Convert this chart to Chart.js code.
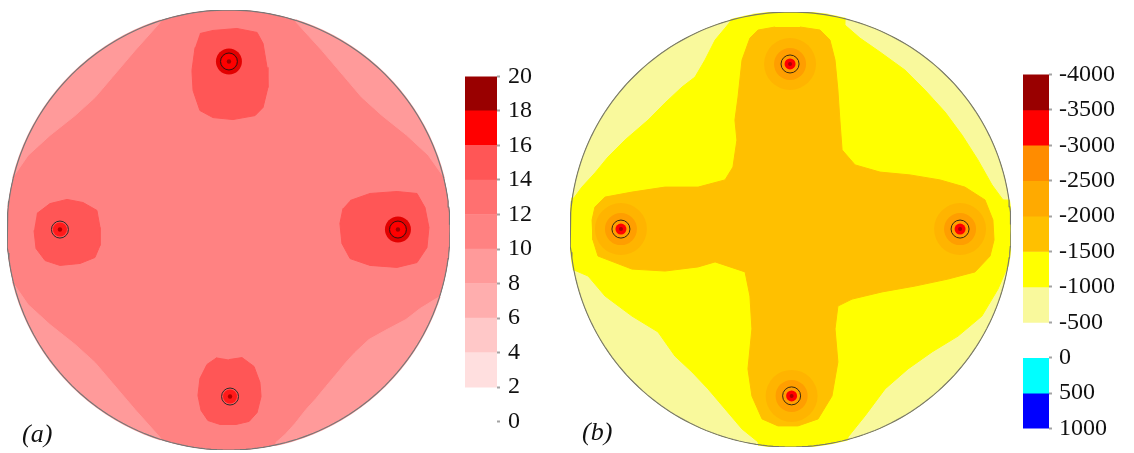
<!DOCTYPE html>
<html>
<head>
<meta charset="utf-8">
<script src="https://cdn.jsdelivr.net/npm/chart.js@4.4.1/dist/chart.umd.min.js"></script>
<style>
  html, body { margin: 0; padding: 0; background: #fff; }
  body { width: 1134px; height: 453px; position: relative; overflow: hidden; }
  canvas { position: absolute; }
  .tag { position: absolute; font-family: 'Liberation Serif', 'Times New Roman', serif; font-style: italic;
         font-size: 26px; line-height: 26px; color: #111; white-space: nowrap; }
</style>
</head>
<body>
<canvas id="diskA" width="449" height="446" style="left:4px;top:7px"></canvas>
<canvas id="barA" width="102" height="390" style="left:465px;top:54px"></canvas>
<canvas id="diskB" width="447" height="441" style="left:567px;top:9px"></canvas>
<canvas id="barB" width="111" height="397" style="left:1023px;top:53px"></canvas>
<div class="tag" style="left:22px;top:421px">(a)</div>
<div class="tag" style="left:582px;top:419px">(b)</div>

<script>
// ---- contour levels and their colours (band i spans levels[i]..levels[i+1]) ----
const levelsA = [0, 2, 4, 6, 8, 10, 12, 14, 16, 18, 20];
const levelColorsA = [null, '#FFDFDF', '#FFC8C8', '#FFAEAE', '#FF9A9A', '#FF8282', '#FF7070', '#FF5656', '#FF0000', '#990000'];

const levelsB = [-4000, -3500, -3000, -2500, -2000, -1500, -1000, -500, 0, 500, 1000];
const levelColorsB = ['#990000', '#FF0000', '#FF8C00', '#FFAA00', '#FFC000', '#FFFF00', '#F9F99C', null, '#00FFFF', '#0000FF'];

// ---- loaded points on the section (unit-radius coordinates) ----
const strongPointsA = [{x: 0.002, y: 0.766}, {x: 0.765, y: 0.002}];
const weakPointsA = [{x: -0.761, y: 0.002}, {x: 0.007, y: -0.757}];
const pointsB = [{x: -0.002, y: 0.761}, {x: -0.769, y: 0.002}, {x: 0.769, y: 0.002}, {x: 0.005, y: -0.765}];

// ---- contour outlines, panel (a) ----
const bandTopLeftA = [[-0.31, 1.2], [-0.309, 0.943], [-0.422, 0.816], [-0.526, 0.693], [-0.603, 0.602], [-0.693, 0.520],
  [-0.806, 0.430], [-0.905, 0.339], [-0.977, 0.234], [-1.2, 0.23], [-1.2, 1.2]];
const bandTopRightA = [[0.31, 1.2], [0.305, 0.945], [0.420, 0.818], [0.524, 0.695], [0.600, 0.605], [0.690, 0.523],
  [0.803, 0.432], [0.902, 0.340], [0.975, 0.236], [1.2, 0.23], [1.2, 1.2]];
const bandBottomRightA = [[1.2, -0.3], [0.946, -0.307], [0.865, -0.357], [0.801, -0.407], [0.707, -0.457], [0.634, -0.498],
  [0.571, -0.557], [0.530, -0.602], [0.485, -0.657], [0.440, -0.711], [0.395, -0.766], [0.350, -0.816], [0.300, -0.880],
  [0.255, -0.930], [0.214, -0.966], [0.2, -1.2], [1.2, -1.2]];
const bandBottomLeftA = [[-0.31, -1.2], [-0.309, -0.943], [-0.422, -0.816], [-0.526, -0.693], [-0.603, -0.602], [-0.693, -0.520],
  [-0.806, -0.430], [-0.905, -0.339], [-0.977, -0.234], [-1.2, -0.23], [-1.2, -1.2]];

const blobTopA = [[-0.129, 0.893], [-0.070, 0.907], [0.038, 0.916], [0.129, 0.898], [0.156, 0.848], [0.174, 0.739],
  [0.178, 0.648], [0.156, 0.557], [0.120, 0.520], [0.020, 0.502], [-0.070, 0.511], [-0.129, 0.543], [-0.160, 0.634],
  [-0.165, 0.725], [-0.151, 0.830]];
const blobRightA = [[0.549, 0.134], [0.639, 0.166], [0.761, 0.175], [0.851, 0.166], [0.887, 0.102], [0.905, 0.011],
  [0.896, -0.080], [0.851, -0.148], [0.761, -0.170], [0.639, -0.161], [0.549, -0.130], [0.512, -0.061], [0.503, 0.030],
  [0.517, 0.098]];
const blobLeftA = [[-0.865, 0.075], [-0.806, 0.120], [-0.729, 0.139], [-0.657, 0.125], [-0.594, 0.089], [-0.580, 0.011],
  [-0.580, -0.070], [-0.603, -0.125], [-0.670, -0.152], [-0.761, -0.161], [-0.828, -0.139], [-0.869, -0.084], [-0.878, -0.002]];
const blobBottomA = [[0.002, -0.589], [0.061, -0.580], [0.115, -0.620], [0.142, -0.693], [0.147, -0.757], [0.129, -0.830],
  [0.093, -0.870], [0.034, -0.884], [-0.038, -0.884], [-0.093, -0.866], [-0.124, -0.820], [-0.138, -0.752], [-0.129, -0.675],
  [-0.097, -0.611], [-0.052, -0.580]];

// ---- contour outlines, panel (b) ----
const yellowZoneB = [[-0.229, 1.1], [-0.274, 0.954], [-0.342, 0.871], [-0.388, 0.779], [-0.433, 0.701], [-0.492, 0.655],
  [-0.569, 0.582], [-0.646, 0.503], [-0.751, 0.411], [-0.828, 0.333], [-0.887, 0.260], [-0.946, 0.195], [-0.982, 0.145],
  [-1.1, 0.14], [-1.1, -0.18], [-0.982, -0.186], [-0.918, -0.214], [-0.841, -0.306], [-0.719, -0.398], [-0.601, -0.471],
  [-0.524, -0.582], [-0.447, -0.655], [-0.374, -0.733], [-0.297, -0.825], [-0.220, -0.917], [-0.147, -0.977],
  [-0.13, -1.1], [0.23, -1.1], [0.261, -0.954], [0.338, -0.857], [0.429, -0.733], [0.533, -0.641], [0.642, -0.563],
  [0.760, -0.490], [0.868, -0.398], [0.941, -0.274], [0.986, -0.168], [1.1, -0.15], [1.1, 0.13], [0.964, 0.136],
  [0.914, 0.205], [0.850, 0.320], [0.778, 0.434], [0.701, 0.540], [0.610, 0.641], [0.519, 0.733], [0.406, 0.816],
  [0.315, 0.880], [0.247, 0.940], [0.25, 1.1]];
const crossZoneB = [[-0.070, 0.931], [-0.147, 0.917], [-0.184, 0.880], [-0.220, 0.779], [-0.238, 0.609], [-0.252, 0.503],
  [-0.243, 0.411], [-0.261, 0.287], [-0.297, 0.228], [-0.419, 0.195], [-0.569, 0.195], [-0.719, 0.172], [-0.841, 0.149],
  [-0.887, 0.103], [-0.900, 0.044], [-0.896, -0.048], [-0.873, -0.122], [-0.719, -0.182], [-0.569, -0.191], [-0.419, -0.172],
  [-0.342, -0.149], [-0.206, -0.195], [-0.184, -0.306], [-0.175, -0.457], [-0.193, -0.641], [-0.175, -0.766], [-0.129, -0.871],
  [-0.057, -0.903], [0.034, -0.903], [0.125, -0.871], [0.188, -0.766], [0.215, -0.609], [0.202, -0.457], [0.215, -0.352],
  [0.279, -0.320], [0.415, -0.287], [0.565, -0.260], [0.714, -0.228], [0.837, -0.195], [0.905, -0.122], [0.923, -0.048],
  [0.918, 0.044], [0.882, 0.136], [0.791, 0.195], [0.678, 0.228], [0.542, 0.251], [0.406, 0.264], [0.293, 0.297],
  [0.234, 0.366], [0.224, 0.503], [0.215, 0.641], [0.202, 0.779], [0.179, 0.871], [0.134, 0.917], [0.043, 0.931]];

// unit circle used for the section boundary
const rim = Array.from({length: 241}, (_, k) => {
  const t = 2 * Math.PI * k / 240;
  return [Math.cos(t), Math.sin(t)];
});

const serif = "'Liberation Serif', 'Times New Roman', serif";

// clips every dataset of a section plot to its circular boundary
const diskClip = {
  id: 'diskClip',
  beforeDatasetsDraw(chart) {
    const {ctx, scales} = chart;
    const cx = scales.x.getPixelForValue(0), cy = scales.y.getPixelForValue(0);
    const rx = scales.x.getPixelForValue(1) - cx, ry = cy - scales.y.getPixelForValue(1);
    ctx.save();
    ctx.beginPath();
    ctx.ellipse(cx, cy, rx + 1, ry + 1, 0, 0, Math.PI * 2);
    ctx.clip();
  },
  afterDatasetsDraw(chart) { chart.ctx.restore(); }
};

const toXY = pts => pts.map(([x, y]) => ({x, y}));

function region(pts, color) {
  return {data: toXY(pts), fill: 'shape', backgroundColor: color, borderColor: color, borderWidth: 1,
          pointRadius: 0, pointHoverRadius: 0, tension: 0};
}
function outline(pts, color) {
  return {data: toXY(pts), fill: false, borderColor: color, borderWidth: 1.2, pointRadius: 0, pointHoverRadius: 0, tension: 0};
}
function marker(pts, r, fill, stroke, bw) {
  return {data: pts, showLine: false, fill: false, pointRadius: r, pointHoverRadius: r,
          pointBackgroundColor: fill, pointBorderColor: stroke || 'rgba(0,0,0,0)', pointBorderWidth: bw || 0};
}

// layers are listed bottom to top
function sectionChart(id, layers) {
  const n = layers.length;
  layers.forEach((ds, i) => { ds.order = n - i; });
  new Chart(document.getElementById(id), {
    type: 'line',
    data: {datasets: layers},
    options: {
      responsive: false, animation: false, events: [],
      layout: {padding: 3, autoPadding: false},
      plugins: {legend: {display: false}, tooltip: {enabled: false}},
      scales: {
        x: {type: 'linear', min: -1, max: 1, display: false},
        y: {type: 'linear', min: -1, max: 1, display: false}
      }
    },
    plugins: [diskClip]
  });
}

function legendChart(id, levels, colors, reverse, axisWidth, pad) {
  const datasets = [];
  colors.forEach((c, i) => {
    if (!c) return;
    datasets.push({data: [[levels[i], levels[i + 1]]], backgroundColor: c, borderWidth: 0,
                   grouped: false, barPercentage: 1, categoryPercentage: 1});
  });
  new Chart(document.getElementById(id), {
    type: 'bar',
    data: {labels: [''], datasets},
    options: {
      responsive: false, animation: false, events: [],
      layout: {padding: {top: 20, bottom: 20, left: 0, right: 0}, autoPadding: false},
      plugins: {legend: {display: false}, tooltip: {enabled: false}},
      scales: {
        x: {display: false},
        y: {
          position: 'right', reverse,
          min: Math.min(...levels), max: Math.max(...levels),
          afterBuildTicks: s => { s.ticks = levels.map(v => ({value: v})); },
          afterFit: s => { s.width = axisWidth; },
          ticks: {autoSkip: false, padding: pad, color: '#111',
                  font: {family: serif, size: 24},
                  callback: v => String(v)},
          grid: {display: true, drawOnChartArea: false, drawTicks: true, tickLength: 3, tickWidth: 2, tickColor: '#a3a3a3'},
          border: {display: false}
        }
      }
    }
  });
}

function drawAll() {
  // panel (a)
  sectionChart('diskA', [
    region(rim, levelColorsA[5]),
    region(bandTopLeftA, levelColorsA[4]),
    region(bandTopRightA, levelColorsA[4]),
    region(bandBottomRightA, levelColorsA[4]),
    region(bandBottomLeftA, levelColorsA[4]),
    region(blobTopA, levelColorsA[7]),
    region(blobRightA, levelColorsA[7]),
    region(blobLeftA, levelColorsA[7]),
    region(blobBottomA, levelColorsA[7]),
    marker(strongPointsA, 13, '#E20000'),
    marker(strongPointsA, 7.5, levelColorsA[8]),
    marker(weakPointsA, 7, '#FF1A1A'),
    marker(strongPointsA, 8.5, 'rgba(0,0,0,0)', '#3a1010', 1),
    marker(weakPointsA, 8.5, 'rgba(0,0,0,0)', '#2b2b2b', 1),
    marker(strongPointsA, 2.2, '#A00000'),
    marker(weakPointsA, 2.2, '#B00000'),
    outline(rim, '#777777')
  ]);

  // panel (b)
  sectionChart('diskB', [
    region(rim, levelColorsB[6]),
    region(yellowZoneB, levelColorsB[5]),
    region(crossZoneB, levelColorsB[4]),
    marker(pointsB, 26, '#FFB400'),
    marker(pointsB, 16, '#FF9E00'),
    marker(pointsB, 9, 'rgba(0,0,0,0)', '#3a2a10', 1),
    marker(pointsB, 5.5, levelColorsB[1]),
    marker(pointsB, 2, '#B00000'),
    outline(rim, '#7a7a6a')
  ]);

  legendChart('barA', levelsA, levelColorsA, false, 70, 8);
  legendChart('barB', levelsB, levelColorsB, true, 85, 7);
}

// make sure the serif face is ready before canvas text is drawn
Promise.all([
  document.fonts.load("24px 'Liberation Serif'"),
  document.fonts.load("italic 26px 'Liberation Serif'")
]).catch(() => {}).then(() => document.fonts.ready).then(drawAll, drawAll);
</script>
</body>
</html>
